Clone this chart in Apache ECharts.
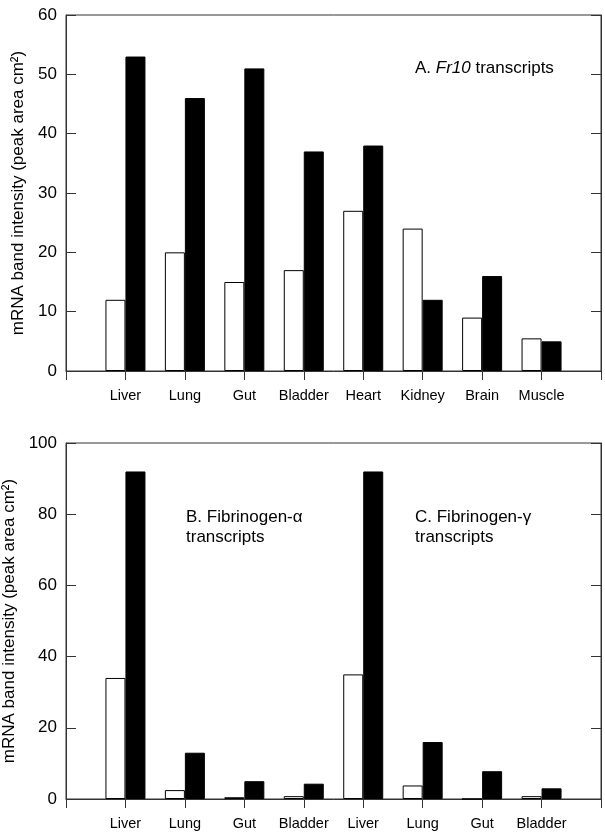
<!DOCTYPE html>
<html>
<head>
<meta charset="utf-8">
<script src="https://cdn.jsdelivr.net/npm/echarts@6/dist/echarts.min.js"></script>
<style>
  html, body { margin: 0; padding: 0; background: #fff; }
  #chart { width: 605px; height: 840px; }
</style>
</head>
<body>
<div id="chart"></div>
<script>
// panel A data
const topCategories = ['Liver', 'Lung', 'Gut', 'Bladder', 'Heart', 'Kidney', 'Brain', 'Muscle']
const topOpen = [12, 20, 15, 17, 27, 24, 9, 5.5]
const topFilled = [53, 46, 51, 37, 38, 12, 16, 5]

// panels B + C data
const bottomCategories = ['Liver', 'Lung', 'Gut', 'Bladder', 'Liver', 'Lung', 'Gut', 'Bladder']
const bottomOpen = [34, 2.5, 0.5, 0.8, 35, 3.8, 0, 0.8]
const bottomFilled = [92, 13, 5, 4.3, 92, 16, 7.8, 3]

const topTicks = { min: 0, max: 60, interval: 10 }
const bottomTicks = { min: 0, max: 100, interval: 20 }

const font = "'Liberation Sans', Arial, sans-serif"
const axisColor = '#333'
const yName = 'mRNA band intensity (peak area cm²)'

// empty slot at each end so the tissues sit at 1..8 of 0..9
const pad = (arr, fill) => [fill, ...arr, fill]

const xAxis = (gridIndex, cats) => ({
  type: 'category',
  gridIndex,
  boundaryGap: false,
  data: pad(cats, ''),
  axisLine: { lineStyle: { color: axisColor, width: 1 } },
  axisTick: { inside: false, length: 9, lineStyle: { color: axisColor } },
  axisLabel: { color: '#000', fontSize: 14.5, fontFamily: font, margin: 17, interval: 0 },
  splitLine: { show: false }
})

const yLeft = (gridIndex, ticks) => ({
  type: 'value',
  gridIndex,
  ...ticks,
  name: yName,
  nameLocation: 'middle',
  nameGap: 37,
  nameTextStyle: { color: '#000', fontSize: 17, fontFamily: font },
  axisLine: { show: true, lineStyle: { color: axisColor } },
  axisTick: { show: true, inside: true, length: 10, lineStyle: { color: axisColor } },
  axisLabel: { color: '#000', fontSize: 17, fontFamily: font, margin: 9 },
  splitLine: { show: false }
})

const yRight = (gridIndex, ticks) => ({
  type: 'value',
  gridIndex,
  position: 'right',
  ...ticks,
  axisLine: { show: true, lineStyle: { color: axisColor } },
  axisTick: { show: true, inside: true, length: 10, lineStyle: { color: axisColor } },
  axisLabel: { show: false },
  splitLine: { show: false }
})

const openBar = (i, data) => ({
  type: 'bar',
  xAxisIndex: i,
  yAxisIndex: i * 2,
  data: pad(data, null),
  barWidth: 20,
  barGap: '0%',
  itemStyle: { color: '#fff', borderColor: '#000', borderWidth: 1 }
})

const filledBar = (i, data) => ({
  type: 'bar',
  xAxisIndex: i,
  yAxisIndex: i * 2,
  data: pad(data, null),
  barWidth: 20,
  barGap: '0%',
  itemStyle: { color: '#000', borderColor: '#000', borderWidth: 1 }
})

const labelRich = {
  n: { fontSize: 17, fontFamily: font, color: '#000', fontWeight: 'normal', lineHeight: 20 },
  i: { fontSize: 17, fontFamily: font, color: '#000', fontWeight: 'normal', fontStyle: 'italic', lineHeight: 20 }
}
const titleStyle = { fontWeight: 'normal', rich: labelRich }

const mChart = echarts.init(document.getElementById('chart'))
mChart.setOption({
  backgroundColor: '#fff',
  animation: false,
  title: [
    { text: '{n|A. }{i|Fr10}{n| transcripts}', left: 415, top: 58, padding: 0, textStyle: titleStyle },
    { text: '{n|B. Fibrinogen-α}\n{n|transcripts}', left: 186, top: 507, padding: 0, textStyle: titleStyle },
    { text: '{n|C. Fibrinogen-γ}\n{n|transcripts}', left: 415, top: 507, padding: 0, textStyle: titleStyle }
  ],
  grid: [
    { left: 66, right: 4, top: 15, height: 356, outerBoundsMode: 'none', show: true, borderColor: axisColor, borderWidth: 1, backgroundColor: 'transparent' },
    { left: 66, right: 4, top: 443, height: 356, outerBoundsMode: 'none', show: true, borderColor: axisColor, borderWidth: 1, backgroundColor: 'transparent' }
  ],
  xAxis: [xAxis(0, topCategories), xAxis(1, bottomCategories)],
  yAxis: [yLeft(0, topTicks), yRight(0, topTicks), yLeft(1, bottomTicks), yRight(1, bottomTicks)],
  series: [
    openBar(0, topOpen),
    filledBar(0, topFilled),
    openBar(1, bottomOpen),
    filledBar(1, bottomFilled)
  ]
})
window.addEventListener('resize', () => {
  mChart.resize()
})
</script>
</body>
</html>
